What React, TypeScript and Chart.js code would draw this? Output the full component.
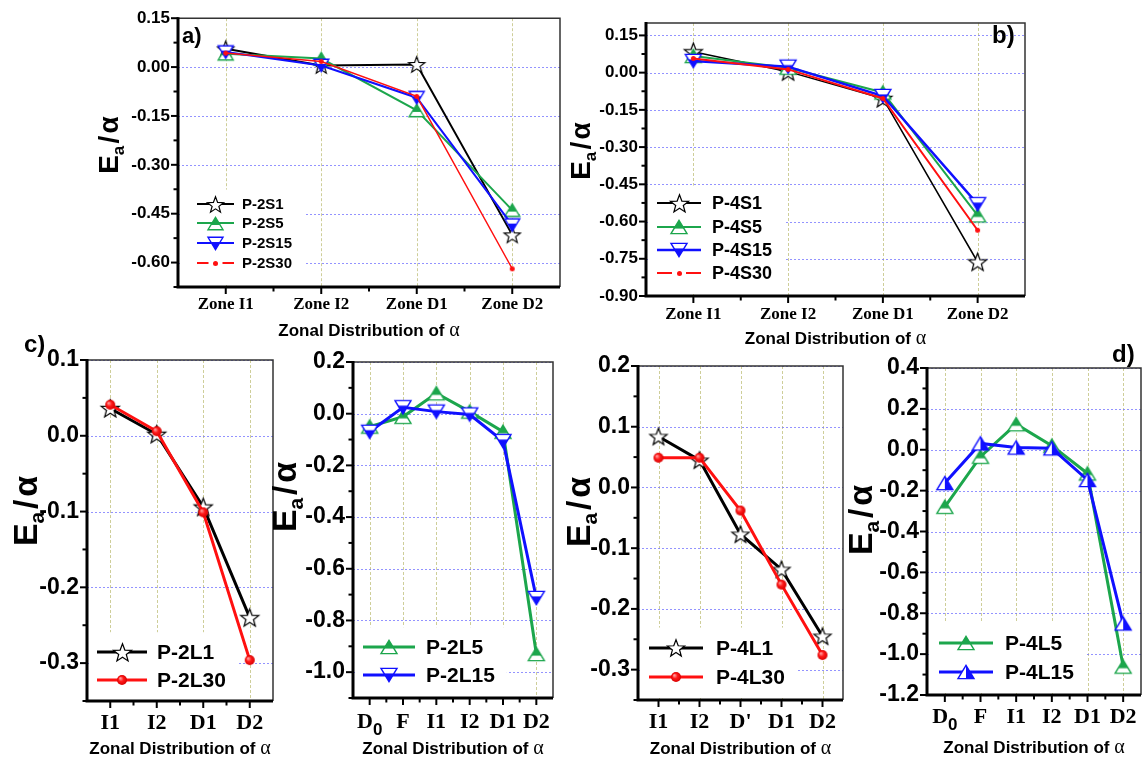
import React, { useEffect, useRef } from 'react';
import { Chart, registerables } from 'chart.js';

Chart.register(...registerables);

// ---------------- DATA ----------------
const zonesA = ['Zone I1', 'Zone I2', 'Zone D1', 'Zone D2'];
const p2S1 = [0.056, 0.005, 0.008, -0.515];
const p2S5 = [0.041, 0.026, -0.133, -0.439];
const p2S15 = [0.046, 0.005, -0.094, -0.485];
const p2S30 = [0.043, 0.017, -0.09, -0.619];
const ticksA = [0.15, 0, -0.15, -0.3, -0.45, -0.6];

const zonesB = ['Zone I1', 'Zone I2', 'Zone D1', 'Zone D2'];
const p4S1 = [0.084, 0.004, -0.104, -0.763];
const p4S5 = [0.067, 0.02, -0.08, -0.575];
const p4S15 = [0.047, 0.024, -0.094, -0.53];
const p4S30 = [0.057, 0.013, -0.104, -0.635];
const ticksB = [0.15, 0, -0.15, -0.3, -0.45, -0.6, -0.75, -0.9];

const zonesC1 = ['I1', 'I2', 'D1', 'D2'];
const p2L1 = [0.036, 0.002, -0.094, -0.24];
const p2L30 = [0.041, 0.006, -0.101, -0.296];
const ticksC1 = [0.1, 0, -0.1, -0.2, -0.3];

const zonesC2 = ['D_0', 'F', 'I1', 'I2', 'D1', 'D2'];
const p2L5 = [-0.05, -0.012, 0.079, 0.008, -0.07, -0.93];
const p2L15 = [-0.07, 0.025, 0.008, -0.003, -0.106, -0.713];
const ticksC2 = [0.2, 0, -0.2, -0.4, -0.6, -0.8, -1.0];

const zonesC3 = ['I1', 'I2', "D'", 'D1', 'D2'];
const p4L1 = [0.084, 0.045, -0.077, -0.135, -0.245];
const p4L30 = [0.049, 0.049, -0.038, -0.16, -0.276];
const ticksC3 = [0.2, 0.1, 0, -0.1, -0.2, -0.3];

const zonesD = ['D_0', 'F', 'I1', 'I2', 'D1', 'D2'];
const p4L5 = [-0.279, -0.034, 0.125, 0.02, -0.116, -1.061];
const p4L15 = [-0.163, 0.031, 0.011, 0.007, -0.148, -0.85];
const ticksD = [0.4, 0.2, 0, -0.2, -0.4, -0.6, -0.8, -1.0, -1.2];

// ---------------- STYLE ----------------
const SANS = '"Liberation Sans", Arial, sans-serif';
const SERIF = '"Liberation Serif", "Times New Roman", serif';
const BLACK = '#000000';
const GREEN = '#1ca64c';
const BLUE = '#1010ff';
const RED = '#ff1010';

type Series = { label: string; data: number[]; color: string; width: number; marker: string; size: number; order: number };
type PanelCfg = {
  key: string;
  cx: number; cy: number; cw: number; ch: number;
  box: { l: number; t: number; r: number; b: number };
  labels: string[];
  series: Series[];
  yMin: number; yMax: number; yTicks: number[]; decimals: number;
  tickFont: number; catFont: number; catY: number; xTitleY: number; xTitleFont: number;
  yTitle: { x: number; y: number; size: number };
  legend: { x0: number; x1: number; tx: number; rows: number[]; font: number };
  letter?: { text: string; x: number; y: number; size: number };
};

const panels: PanelCfg[] = [
  {
    key: 'a', cx: 85, cy: 0, cw: 480, ch: 350,
    box: { l: 178, t: 17, r: 560, b: 287 },
    labels: zonesA,
    series: [
      { label: 'P-2S1', data: p2S1, color: BLACK, width: 2, marker: 'star', size: 8.5, order: 3 },
      { label: 'P-2S5', data: p2S5, color: GREEN, width: 2, marker: 'triUpTop', size: 7.5, order: 2 },
      { label: 'P-2S15', data: p2S15, color: BLUE, width: 2, marker: 'triDownBottom', size: 7.5, order: 1 },
      { label: 'P-2S30', data: p2S30, color: RED, width: 1.5, marker: 'dot', size: 2.5, order: 0 },
    ],
    yMin: -0.675, yMax: 0.15, yTicks: ticksA, decimals: 2,
    tickFont: 17, catFont: 17, catY: 305, xTitleY: 330, xTitleFont: 17,
    yTitle: { x: 118, y: 145, size: 28 },
    legend: { x0: 197, x1: 234, tx: 242, rows: [204, 223, 243, 263], font: 15 },
    letter: { text: 'a)', x: 182, y: 37, size: 22 },
  },
  {
    key: 'b', cx: 565, cy: 0, cw: 577, ch: 350,
    box: { l: 646, t: 23, r: 1025, b: 296 },
    labels: zonesB,
    series: [
      { label: 'P-4S1', data: p4S1, color: BLACK, width: 1.5, marker: 'star', size: 9.5, order: 3 },
      { label: 'P-4S5', data: p4S5, color: GREEN, width: 2, marker: 'triUpTop', size: 8, order: 2 },
      { label: 'P-4S15', data: p4S15, color: BLUE, width: 2.5, marker: 'triDownBottom', size: 8, order: 1 },
      { label: 'P-4S30', data: p4S30, color: RED, width: 2, marker: 'dot', size: 2.5, order: 0 },
    ],
    yMin: -0.9, yMax: 0.2, yTicks: ticksB, decimals: 2,
    tickFont: 17, catFont: 17, catY: 315, xTitleY: 338, xTitleFont: 17,
    yTitle: { x: 590, y: 151, size: 28 },
    legend: { x0: 657, x1: 701, tx: 712, rows: [203, 227, 250, 273], font: 18 },
    letter: { text: 'b)', x: 992, y: 36, size: 24 },
  },
  {
    key: 'c1', cx: 0, cy: 335, cw: 280, ch: 425,
    box: { l: 87, t: 360, r: 273, b: 701 },
    labels: zonesC1,
    series: [
      { label: 'P-2L1', data: p2L1, color: BLACK, width: 3, marker: 'star', size: 9.5, order: 1 },
      { label: 'P-2L30', data: p2L30, color: RED, width: 3, marker: 'ball', size: 5, order: 0 },
    ],
    yMin: -0.35, yMax: 0.1, yTicks: ticksC1, decimals: 1,
    tickFont: 23, catFont: 22, catY: 723, xTitleY: 748, xTitleFont: 17,
    yTitle: { x: 37, y: 511, size: 34 },
    legend: { x0: 97, x1: 147, tx: 157, rows: [652, 680], font: 21 },
    letter: { text: 'c)', x: 24, y: 345, size: 24 },
  },
  {
    key: 'c2', cx: 266, cy: 335, cw: 292, ch: 425,
    box: { l: 353, t: 362, r: 553, b: 698 },
    labels: zonesC2,
    series: [
      { label: 'P-2L5', data: p2L5, color: GREEN, width: 3, marker: 'triUpTop', size: 8, order: 1 },
      { label: 'P-2L15', data: p2L15, color: BLUE, width: 3, marker: 'triDownBottom', size: 8, order: 0 },
    ],
    yMin: -1.1, yMax: 0.2, yTicks: ticksC2, decimals: 1,
    tickFont: 23, catFont: 22, catY: 722, xTitleY: 748, xTitleFont: 17,
    yTitle: { x: 296, y: 497, size: 34 },
    legend: { x0: 363, x1: 415, tx: 426, rows: [647, 675], font: 21 },
  },
  {
    key: 'c3', cx: 556, cy: 335, cw: 290, ch: 425,
    box: { l: 638, t: 366, r: 843, b: 700 },
    labels: zonesC3,
    series: [
      { label: 'P-4L1', data: p4L1, color: BLACK, width: 3, marker: 'star', size: 9, order: 1 },
      { label: 'P-4L30', data: p4L30, color: RED, width: 3, marker: 'ball', size: 5, order: 0 },
    ],
    yMin: -0.35, yMax: 0.2, yTicks: ticksC3, decimals: 1,
    tickFont: 23, catFont: 22, catY: 722, xTitleY: 748, xTitleFont: 17,
    yTitle: { x: 590, y: 512, size: 34 },
    legend: { x0: 649, x1: 703, tx: 716, rows: [648, 677], font: 21 },
  },
  {
    key: 'd', cx: 844, cy: 335, cw: 298, ch: 425,
    box: { l: 927, t: 368, r: 1141, b: 695 },
    labels: zonesD,
    series: [
      { label: 'P-4L5', data: p4L5, color: GREEN, width: 3, marker: 'triUpTop', size: 8, order: 1 },
      { label: 'P-4L15', data: p4L15, color: BLUE, width: 3, marker: 'triUpRight', size: 8, order: 0 },
    ],
    yMin: -1.2, yMax: 0.4, yTicks: ticksD, decimals: 1,
    tickFont: 23, catFont: 22, catY: 717, xTitleY: 747, xTitleFont: 17,
    yTitle: { x: 872, y: 520, size: 34 },
    legend: { x0: 939, x1: 993, tx: 1005, rows: [643, 672], font: 21 },
    letter: { text: 'd)', x: 1112, y: 355, size: 24 },
  },
];

// ---------------- MARKERS ----------------
function makeMarker(kind: string, color: string, r: number): HTMLCanvasElement {
  const pad = 3;
  const s = Math.ceil(2 * r + 2 * pad);
  const c = document.createElement('canvas');
  c.width = s;
  c.height = s;
  const g = c.getContext('2d') as CanvasRenderingContext2D;
  const cx = s / 2;
  const cy = s / 2;
  g.lineJoin = 'miter';
  if (kind === 'star') {
    g.beginPath();
    for (let i = 0; i < 10; i++) {
      const rr = i % 2 === 0 ? r : r * 0.42;
      const ang = -Math.PI / 2 + (i * Math.PI) / 5;
      const px = cx + rr * Math.cos(ang);
      const py = cy + 0.8 + rr * Math.sin(ang);
      if (i === 0) g.moveTo(px, py);
      else g.lineTo(px, py);
    }
    g.closePath();
    g.fillStyle = '#ffffff';
    g.fill();
    g.lineWidth = 1.2;
    g.strokeStyle = color;
    g.stroke();
  } else if (kind === 'dot') {
    g.beginPath();
    g.arc(cx, cy, r, 0, Math.PI * 2);
    g.fillStyle = color;
    g.fill();
  } else if (kind === 'ball') {
    const grd = g.createRadialGradient(cx - r * 0.35, cy - r * 0.35, r * 0.1, cx, cy, r);
    grd.addColorStop(0, '#ff9a9a');
    grd.addColorStop(0.45, '#ff1a1a');
    grd.addColorStop(1, '#d80000');
    g.beginPath();
    g.arc(cx, cy, r, 0, Math.PI * 2);
    g.fillStyle = grd;
    g.fill();
  } else {
    const h = r * 1.65;
    let pts: number[][];
    if (kind === 'triDownBottom') pts = [[cx - r, cy - h / 2], [cx + r, cy - h / 2], [cx, cy + h / 2]];
    else pts = [[cx, cy - h / 2], [cx + r, cy + h / 2], [cx - r, cy + h / 2]];
    const path = () => {
      g.beginPath();
      g.moveTo(pts[0][0], pts[0][1]);
      g.lineTo(pts[1][0], pts[1][1]);
      g.lineTo(pts[2][0], pts[2][1]);
      g.closePath();
    };
    path();
    g.fillStyle = '#ffffff';
    g.fill();
    g.save();
    path();
    g.clip();
    g.fillStyle = color;
    if (kind === 'triUpTop') g.fillRect(0, 0, s, cy + h * 0.12);
    else if (kind === 'triDownBottom') g.fillRect(0, cy - h * 0.12, s, s);
    else g.fillRect(cx, 0, s, s);
    g.restore();
    path();
    g.lineWidth = 1.4;
    g.strokeStyle = color;
    g.stroke();
  }
  return c;
}

// ---------------- DECORATION PLUGIN ----------------
function drawYTitle(ctx: CanvasRenderingContext2D, x: number, y: number, size: number) {
  ctx.save();
  ctx.translate(x, y);
  ctx.rotate(-Math.PI / 2);
  ctx.fillStyle = '#000';
  ctx.textBaseline = 'alphabetic';
  ctx.textAlign = 'left';
  const fE = `bold ${size}px ${SANS}`;
  const fA = `bold ${Math.round(size * 0.62)}px ${SANS}`;
  ctx.font = fE;
  const wE = ctx.measureText('E').width;
  const wS = ctx.measureText('/').width;
  const wAl = ctx.measureText('α').width;
  ctx.font = fA;
  const wa = ctx.measureText('a').width;
  const gap = size * 0.08;
  const total = wE + wa + gap + wS + gap + wAl;
  let px = -total / 2;
  ctx.font = fE;
  ctx.fillText('E', px, 0);
  px += wE;
  ctx.font = fA;
  ctx.fillText('a', px, size * 0.2);
  px += wa + gap;
  ctx.font = fE;
  ctx.fillText('/', px, 0);
  px += wS + gap;
  ctx.fillText('α', px, 0);
  ctx.restore();
}

function makeDeco(p: PanelCfg, markers: HTMLCanvasElement[]) {
  const X = (v: number) => v - p.cx;
  const Y = (v: number) => v - p.cy;
  return {
    id: 'deco_' + p.key,
    beforeDatasetsDraw(chart: any) {
      const ctx: CanvasRenderingContext2D = chart.ctx;
      const a = chart.chartArea;
      const xs = chart.scales.x;
      const ys = chart.scales.y;
      ctx.save();
      ctx.lineWidth = 1;
      ctx.setLineDash([3, 2]);
      ctx.strokeStyle = 'rgba(185,185,110,0.7)';
      p.labels.forEach((_, i) => {
        const px = Math.round(xs.getPixelForValue(i)) + 0.5;
        ctx.beginPath();
        ctx.moveTo(px, a.top);
        ctx.lineTo(px, a.bottom);
        ctx.stroke();
      });
      ctx.setLineDash([2, 2]);
      ctx.strokeStyle = 'rgba(120,120,255,0.8)';
      p.yTicks.forEach((v) => {
        const py = Math.round(ys.getPixelForValue(v)) + 0.5;
        ctx.beginPath();
        ctx.moveTo(a.left, py);
        ctx.lineTo(a.right, py);
        ctx.stroke();
      });
      ctx.setLineDash([]);
      // legend background
      const lg = p.legend;
      ctx.font = `bold ${lg.font}px ${SANS}`;
      const tw = Math.max(...p.series.map((s) => ctx.measureText(s.label).width));
      const dy = lg.rows[1] - lg.rows[0];
      const top = Y(lg.rows[0]) - dy * 0.6 - 3;
      ctx.fillStyle = '#ffffff';
      ctx.fillRect(a.left + 2, top, X(lg.tx) + tw + 12 - a.left - 2, a.bottom - 2 - top);
      ctx.restore();
    },
    afterDatasetsDraw(chart: any) {
      const ctx: CanvasRenderingContext2D = chart.ctx;
      const lg = p.legend;
      ctx.save();
      p.series.forEach((s, i) => {
        const y = Y(lg.rows[i]);
        const x0 = X(lg.x0);
        const x1 = X(lg.x1);
        const mid = (x0 + x1) / 2;
        ctx.strokeStyle = s.color;
        ctx.lineWidth = Math.max(2, s.width);
        ctx.beginPath();
        if (s.marker === 'dot') {
          ctx.moveTo(x0, y);
          ctx.lineTo(mid - 7, y);
          ctx.moveTo(mid + 7, y);
          ctx.lineTo(x1, y);
        } else {
          ctx.moveTo(x0, y);
          ctx.lineTo(x1, y);
        }
        ctx.stroke();
        const m = markers[i];
        ctx.drawImage(m, Math.round(mid - m.width / 2), Math.round(y - m.height / 2));
        ctx.fillStyle = '#000';
        ctx.font = `bold ${lg.font}px ${SANS}`;
        ctx.textAlign = 'left';
        ctx.textBaseline = 'middle';
        ctx.fillText(s.label, X(lg.tx), y + 1);
      });
      ctx.restore();
    },
    afterDraw(chart: any) {
      const ctx: CanvasRenderingContext2D = chart.ctx;
      const a = chart.chartArea;
      const xs = chart.scales.x;
      const ys = chart.scales.y;
      ctx.save();
      // frame
      ctx.strokeStyle = '#333';
      ctx.lineWidth = 1.5;
      ctx.beginPath();
      ctx.moveTo(a.left, a.top);
      ctx.lineTo(a.right, a.top);
      ctx.lineTo(a.right, a.bottom);
      ctx.stroke();
      ctx.strokeStyle = '#000';
      ctx.lineWidth = 3;
      ctx.beginPath();
      ctx.moveTo(a.left, a.top - 1);
      ctx.lineTo(a.left, a.bottom);
      ctx.lineTo(a.right, a.bottom);
      ctx.stroke();
      // y ticks
      ctx.lineWidth = 2;
      const step = Math.abs(p.yTicks[0] - p.yTicks[1]);
      p.yTicks.forEach((v) => {
        const py = ys.getPixelForValue(v);
        ctx.beginPath();
        ctx.moveTo(a.left, py);
        ctx.lineTo(a.left - 7, py);
        ctx.stroke();
      });
      const minors = [p.yTicks[0] + step / 2, ...p.yTicks.map((v) => v - step / 2)].filter(
        (v) => v <= p.yMax + 1e-9 && v >= p.yMin - 1e-9
      );
      minors.forEach((v) => {
        const py = ys.getPixelForValue(v);
        ctx.beginPath();
        ctx.moveTo(a.left, py);
        ctx.lineTo(a.left - 4.5, py);
        ctx.stroke();
      });
      // x ticks
      p.labels.forEach((_, i) => {
        const px = xs.getPixelForValue(i);
        ctx.beginPath();
        ctx.moveTo(px, a.bottom);
        ctx.lineTo(px, a.bottom + 7);
        ctx.stroke();
        if (i > 0) {
          const pm = (px + xs.getPixelForValue(i - 1)) / 2;
          ctx.beginPath();
          ctx.moveTo(pm, a.bottom);
          ctx.lineTo(pm, a.bottom + 4.5);
          ctx.stroke();
        }
      });
      // category labels
      ctx.fillStyle = '#000';
      ctx.textBaseline = 'middle';
      ctx.textAlign = 'left';
      const cy = Y(p.catY);
      p.labels.forEach((lab, i) => {
        const px = xs.getPixelForValue(i);
        const parts = lab.split('_');
        const fBase = `bold ${p.catFont}px ${SERIF}`;
        const fSub = `bold ${Math.round(p.catFont * 0.78)}px ${SANS}`;
        ctx.font = fBase;
        const wb = ctx.measureText(parts[0]).width;
        let ws = 0;
        if (parts[1]) {
          ctx.font = fSub;
          ws = ctx.measureText(parts[1]).width;
        }
        const start = px - (wb + ws) / 2;
        ctx.font = fBase;
        ctx.fillText(parts[0], start, cy);
        if (parts[1]) {
          ctx.font = fSub;
          ctx.fillText(parts[1], start + wb, cy + p.catFont * 0.38);
        }
      });
      // x title
      const xt = 'Zonal Distribution of ';
      const fMain = `bold ${p.xTitleFont}px ${SANS}`;
      const fAlpha = `${Math.round(p.xTitleFont * 1.15)}px ${SERIF}`;
      ctx.font = fMain;
      const w1 = ctx.measureText(xt).width;
      ctx.font = fAlpha;
      const w2 = ctx.measureText('α').width;
      const xc = (a.left + a.right) / 2;
      const sx = xc - (w1 + w2) / 2;
      ctx.textBaseline = 'alphabetic';
      const by = Y(p.xTitleY) + p.xTitleFont * 0.36;
      ctx.font = fMain;
      ctx.fillText(xt, sx, by);
      ctx.font = fAlpha;
      ctx.fillText('α', sx + w1, by);
      // y title
      drawYTitle(ctx, X(p.yTitle.x), Y(p.yTitle.y), p.yTitle.size);
      // panel letter
      if (p.letter) {
        ctx.font = `bold ${p.letter.size}px ${SANS}`;
        ctx.textBaseline = 'middle';
        ctx.textAlign = 'left';
        ctx.fillStyle = '#000';
        ctx.fillText(p.letter.text, X(p.letter.x), Y(p.letter.y));
      }
      ctx.restore();
    },
  };
}

function buildConfig(p: PanelCfg): any {
  const L = p.box.l - p.cx;
  const T = p.box.t - p.cy;
  const R = p.cw - (p.box.r - p.cx);
  const B = p.ch - (p.box.b - p.cy);
  const markers = p.series.map((s) => makeMarker(s.marker, s.color, s.size));
  return {
    type: 'line',
    data: {
      labels: p.labels,
      datasets: p.series.map((s, i) => ({
        label: s.label,
        data: s.data,
        borderColor: s.color,
        backgroundColor: s.color,
        borderWidth: s.width,
        pointStyle: markers[i],
        pointRadius: s.size,
        pointHoverRadius: s.size,
        tension: 0,
        fill: false,
        clip: false,
        order: s.order,
      })),
    },
    options: {
      responsive: false,
      animation: false,
      devicePixelRatio: 1,
      events: [],
      layout: { padding: { left: 0, top: T, right: R, bottom: B }, autoPadding: false },
      plugins: { legend: { display: false }, tooltip: { enabled: false }, title: { display: false } },
      scales: {
        x: { type: 'category', display: false, offset: true },
        y: {
          type: 'linear',
          min: p.yMin,
          max: p.yMax,
          afterFit: (s: any) => {
            s.width = L;
          },
          afterBuildTicks: (s: any) => {
            s.ticks = p.yTicks.map((v) => ({ value: v }));
          },
          grid: { display: false, drawTicks: false },
          border: { display: false },
          ticks: {
            autoSkip: false,
            padding: 8,
            color: '#000',
            font: { family: SANS, size: p.tickFont, weight: 'bold' },
            callback: (v: any) => Number(v).toFixed(p.decimals),
          },
        },
      },
    },
    plugins: [makeDeco(p, markers)],
  };
}

function Panel({ cfg }: { cfg: PanelCfg }) {
  const ref = useRef<HTMLCanvasElement | null>(null);
  useEffect(() => {
    if (!ref.current) return;
    const chart = new Chart(ref.current, buildConfig(cfg));
    return () => chart.destroy();
  }, [cfg]);
  return (
    <canvas
      ref={ref}
      width={cfg.cw}
      height={cfg.ch}
      style={{ position: 'absolute', left: cfg.cx, top: cfg.cy, width: cfg.cw, height: cfg.ch }}
    />
  );
}

export default function App() {
  return (
    <div
      style={{
        position: 'absolute',
        left: 0,
        top: 0,
        width: 1142,
        height: 760,
        background: '#ffffff',
        overflow: 'hidden',
      }}
    >
      {panels.map((p) => (
        <Panel key={p.key} cfg={p} />
      ))}
    </div>
  );
}
